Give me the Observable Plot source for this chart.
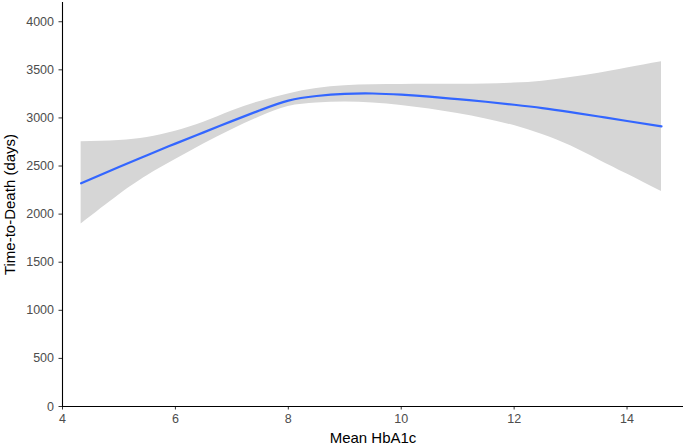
<!DOCTYPE html>
<html>
<head>
<meta charset="utf-8">
<script src="https://cdn.jsdelivr.net/npm/d3@7"></script>
<script src="https://cdn.jsdelivr.net/npm/@observablehq/plot@0.6"></script>
<style>
  html, body { margin: 0; padding: 0; background: #fff; }
  #chart svg { display: block; }
</style>
</head>
<body>
<div id="chart"></div>
<script>
// Mean HbA1c (x), fitted Time-to-Death (days), and confidence band
const hba1c = [4.33, 5.0, 5.5, 6.0, 6.5, 7.0, 7.5, 8.0, 8.5, 9.0, 9.5, 10.0, 10.5, 11.0, 11.5, 12.0, 12.5, 13.0, 13.5, 14.0, 14.61];
const fitDays = [2320, 2490, 2613, 2733, 2850, 2967, 3080, 3180, 3228, 3250, 3254, 3242, 3222, 3195, 3168, 3137, 3102, 3060, 3015, 2968, 2912];
const upperDays = [2753, 2765, 2796, 2862, 2954, 3072, 3172, 3250, 3305, 3334, 3345, 3348, 3350, 3350, 3352, 3362, 3382, 3420, 3465, 3520, 3585];
const lowerDays = [1898, 2200, 2400, 2568, 2729, 2878, 3012, 3118, 3155, 3165, 3155, 3130, 3093, 3045, 2990, 2920, 2828, 2710, 2563, 2416, 2234];
const xTicks = [4, 6, 8, 10, 12, 14];
const yTicks = [0, 500, 1000, 1500, 2000, 2500, 3000, 3500, 4000];

const data = hba1c.map((x, i) => ({x, y: fitDays[i], lo: lowerDays[i], hi: upperDays[i]}));

const chart = Plot.plot({
  width: 685,
  height: 447,
  marginLeft: 62,
  marginRight: 2,
  marginTop: 2,
  marginBottom: 41,
  style: {fontFamily: "'Liberation Sans', Arial, sans-serif", background: "#fff"},
  x: {domain: [4, 15]},
  y: {domain: [0, 4200]},
  marks: [
    Plot.areaY(data, {x: "x", y1: "lo", y2: "hi", fill: "#d6d6d6", curve: "natural"}),
    Plot.line(data, {x: "x", y: "y", stroke: "#3366ff", strokeWidth: 2.2, curve: "natural"}),
    Plot.axisX({ticks: xTicks, tickFormat: d => String(d), tickSize: 3.5, tickPadding: 4, fontSize: 12.5, label: null, color: "#4d4d4d", stroke: "#333"}),
    Plot.axisY({ticks: yTicks, tickFormat: d => String(d), tickSize: 3.5, tickPadding: 5, fontSize: 12.5, label: null, color: "#4d4d4d", stroke: "#333"}),
    Plot.ruleX([4], {stroke: "#000", strokeWidth: 1.1}),
    Plot.ruleY([0], {stroke: "#000", strokeWidth: 1.1}),
    Plot.text(["Mean HbA1c"], {frameAnchor: "bottom", dy: 32, textAnchor: "middle", lineAnchor: "middle", fontSize: 15, fill: "#000"}),
    Plot.text(["Time-to-Death (days)"], {frameAnchor: "left", dx: -52, rotate: -90, textAnchor: "middle", lineAnchor: "middle", fontSize: 15, fill: "#000"})
  ]
});
document.getElementById("chart").appendChild(chart);
</script>
</body>
</html>
